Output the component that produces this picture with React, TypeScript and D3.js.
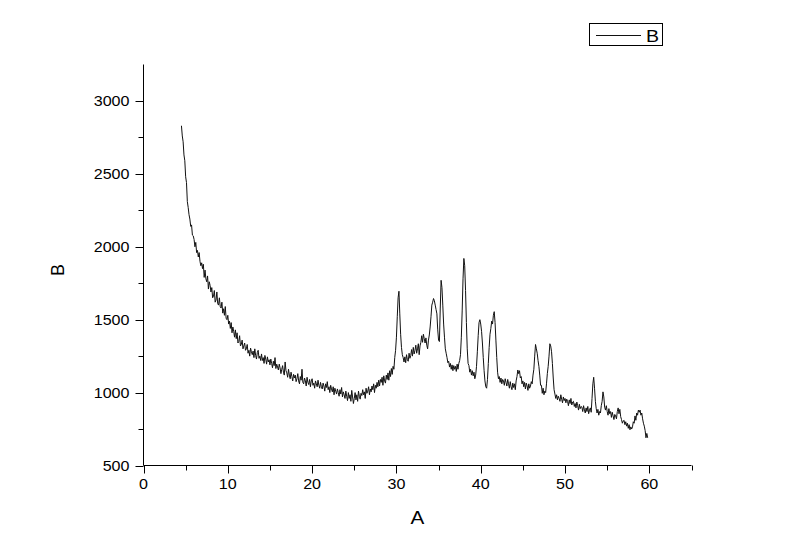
import React from "react";
import * as d3 from "d3";

// Sampling grid of the pattern (A values): starts at 4.5, step 0.1
const xStart = 4.5;
const xStep = 0.1;

// Intensity values (B), one row per unit of A
const values: number[] = [
  // 4.5 - 4.9
  2830, 2760, 2720, 2630, 2590,
  // 5
  2480, 2440, 2310, 2270, 2220, 2190, 2140, 2150, 2080, 2075,
  // 6
  2050, 2000, 2030, 1960, 1975, 1930, 1960, 1900, 1870, 1890,
  // 7
  1850, 1880, 1790, 1840, 1780, 1760, 1800, 1710, 1760, 1735,
  // 8
  1690, 1720, 1650, 1660, 1700, 1620, 1635, 1690, 1610, 1600,
  // 9
  1650, 1590, 1580, 1620, 1545, 1575, 1530, 1590, 1510, 1500,
  // 10
  1530, 1470, 1490, 1440, 1480, 1410, 1450, 1420, 1380, 1430,
  // 11
  1370, 1410, 1340, 1350, 1390, 1320, 1330, 1360, 1300, 1320,
  // 12
  1340, 1290, 1300, 1330, 1270, 1290, 1250, 1305, 1280, 1260,
  // 13
  1285, 1240, 1300, 1255, 1230, 1275, 1290, 1235, 1250, 1220,
  // 14
  1265, 1220, 1240, 1200, 1255, 1230, 1195, 1245, 1210, 1225,
  // 15
  1190, 1230, 1200, 1170, 1215, 1185, 1240, 1165, 1195, 1175,
  // 16
  1155, 1195, 1170, 1130, 1160, 1185, 1140, 1120, 1210, 1150,
  // 17
  1135, 1105, 1160, 1120, 1095, 1140, 1110, 1080, 1125, 1100,
  // 18
  1120, 1075, 1095, 1130, 1080, 1060, 1110, 1085, 1160, 1070,
  // 19
  1060, 1100, 1080, 1045, 1105, 1070, 1055, 1090, 1040, 1080,
  // 20
  1095, 1050, 1065, 1030, 1080, 1060, 1040, 1085, 1050, 1030,
  // 21
  1070, 1040, 1025, 1065, 1045, 1010, 1060, 1035, 1075, 1020,
  // 22
  1040, 1000, 1050, 1025, 1005, 1040, 985, 1030, 1010, 990,
  // 23
  1025, 1000, 975, 1020, 990, 1035, 970, 1005, 985, 960,
  // 24
  1010, 975, 945, 1000, 960, 985, 940, 1015, 970, 925,
  // 25
  960, 1000, 950, 985, 940, 1010, 975, 955, 995, 980,
  // 26
  1020, 985, 1005, 960, 1030, 995, 1010, 1040, 985, 1025,
  // 27
  1005, 1045, 1020, 1060, 1000, 1050, 1030, 1070, 1040, 1085,
  // 28
  1045, 1090, 1070, 1105, 1050, 1115, 1080, 1065, 1120, 1090,
  // 29
  1135, 1085, 1150, 1110, 1165, 1125, 1180, 1160, 1240, 1290,
  // 30
  1380, 1520, 1650, 1695, 1540, 1400, 1310, 1260, 1240, 1210,
  // 31
  1245, 1205, 1260, 1225, 1215, 1270, 1235, 1255, 1295, 1250,
  // 32
  1310, 1265, 1290, 1325, 1270, 1300, 1335, 1260, 1320, 1345,
  // 33
  1390, 1345, 1400, 1370, 1340, 1375, 1325, 1300, 1360, 1395,
  // 34
  1450, 1520, 1600, 1620, 1645, 1630, 1600, 1570, 1540, 1430,
  // 35
  1360, 1350, 1580, 1770, 1720, 1600, 1470, 1380, 1300, 1270,
  // 36
  1240, 1205, 1215, 1175, 1200, 1160, 1190, 1150, 1185, 1160,
  // 37
  1180, 1145, 1195, 1160, 1200, 1220, 1260, 1380, 1560, 1780,
  // 38
  1920, 1870, 1700, 1480, 1300, 1200, 1185, 1140, 1160, 1120,
  // 39
  1150, 1115, 1140, 1095, 1120, 1180, 1280, 1390, 1480, 1500,
  // 40
  1470, 1420, 1340, 1240, 1150, 1080, 1040, 1030, 1090, 1200,
  // 41
  1310, 1400, 1440, 1490, 1470, 1530, 1555, 1480, 1360, 1240,
  // 42
  1140, 1095, 1110, 1070, 1100, 1060, 1090, 1080, 1050, 1095,
  // 43
  1070, 1045, 1090, 1060, 1030, 1075, 1040, 1020, 1065, 1035,
  // 44
  1060, 1020, 1080, 1110, 1155, 1130, 1150, 1100, 1110, 1060,
  // 45
  1080, 1040, 1070, 1025, 1065, 1045, 1015, 1060, 1030, 1045,
  // 46
  1075, 1060, 1120, 1160, 1250, 1330, 1300, 1270, 1220, 1180,
  // 47
  1120, 1050, 1050, 995, 1030, 985, 1010, 1000, 1060, 1130,
  // 48
  1180, 1250, 1335, 1320, 1280, 1200, 1100, 1020, 990, 960,
  // 49
  985, 950, 975, 960, 940, 985, 955, 930, 970, 945,
  // 50
  960, 930, 955, 940, 910, 950, 925, 960, 915, 935,
  // 51
  940, 905, 925, 895, 935, 910, 880, 920, 890, 905,
  // 52
  900, 870, 910, 880, 860, 895, 870, 905, 855, 880,
  // 53
  895, 865, 960, 1060, 1105, 1030, 940, 890, 860, 885,
  // 54
  845, 870, 860, 910, 940, 1005, 970, 900, 880, 910,
  // 55
  870, 845, 890, 855, 870, 830, 865, 840, 815, 850,
  // 56
  840, 820, 870, 895, 855, 885, 835, 815, 790, 805,
  // 57
  810, 780, 800, 770, 790, 755, 780, 745, 765, 750,
  // 58
  765, 800, 790, 840, 810, 860, 845, 880, 865, 880,
  // 59 - 59.8
  845, 860, 820, 790, 770, 740, 690, 720, 690,
];

const xMajorTicks = [0, 10, 20, 30, 40, 50, 60];
const xMinorTicks = [5, 15, 25, 35, 45, 55, 65];
const yMajorTicks = [500, 1000, 1500, 2000, 2500, 3000];
const yMinorTicks = [750, 1250, 1750, 2250, 2750];
const xTitle = "A";
const yTitle = "B";
const seriesName = "B";

const FONT = "'Liberation Sans', Arial, Helvetica, sans-serif";
const SX = 1.15;

export default function App() {
  const x = d3.scaleLinear().domain([0, 65]).range([143.5, 691.5]);
  const y = d3.scaleLinear().domain([500, 3250]).range([465.5, 64.5]);

  const pts: [number, number][] = values.map((v, i) => [xStart + i * xStep, v]);
  const line = d3
    .line<[number, number]>()
    .x((d) => x(d[0]))
    .y((d) => y(d[1]));

  const x0 = x(0);
  const yBase = y(500);

  return (
    <svg
      width={800}
      height={558}
      style={{ position: "absolute", left: 0, top: 0, background: "#fff" }}
      fontFamily={FONT}
    >
      <rect x={0} y={0} width={800} height={558} fill="#fff" />
      {/* data */}
      <path d={line(pts) || ""} fill="none" stroke="#111" strokeWidth={1} strokeLinejoin="round" />

      {/* x axis */}
      <line x1={x0} x2={x(65)} y1={yBase} y2={yBase} stroke="#000" strokeWidth={1} />
      {xMajorTicks.map((t) => (
        <g key={"xm" + t}>
          <line x1={Math.round(x(t)) + 0.5} x2={Math.round(x(t)) + 0.5} y1={yBase} y2={yBase + 8} stroke="#000" />
          <text
            transform={`translate(${x(t)},${yBase + 23}) scale(${SX},1)`}
            textAnchor="middle"
            fontSize={14}
            fill="#000"
          >
            {t}
          </text>
        </g>
      ))}
      {xMinorTicks.map((t) => (
        <line key={"xn" + t} x1={Math.round(x(t)) + 0.5} x2={Math.round(x(t)) + 0.5} y1={yBase} y2={yBase + 5} stroke="#000" />
      ))}

      {/* y axis */}
      <line x1={x0} x2={x0} y1={y(3250)} y2={yBase} stroke="#000" strokeWidth={1} />
      {yMajorTicks.map((t) => (
        <g key={"ym" + t}>
          <line x1={x0 - 8} x2={x0} y1={Math.round(y(t)) + 0.5} y2={Math.round(y(t)) + 0.5} stroke="#000" />
          <text
            transform={`translate(${x0 - 14},${y(t) + 5}) scale(${SX},1)`}
            textAnchor="end"
            fontSize={14}
            fill="#000"
          >
            {t}
          </text>
        </g>
      ))}
      {yMinorTicks.map((t) => (
        <line key={"yn" + t} x1={x0 - 5} x2={x0} y1={Math.round(y(t)) + 0.5} y2={Math.round(y(t)) + 0.5} stroke="#000" />
      ))}

      {/* axis titles */}
      <text
        transform={`translate(${x(32.5)},${524}) scale(${SX},1)`}
        textAnchor="middle"
        fontSize={18}
        fill="#000"
      >
        {xTitle}
      </text>
      <text
        transform={`translate(${64},${(y(3250) + yBase) / 2 + 5}) rotate(-90)`}
        textAnchor="middle"
        fontSize={18}
        fill="#000"
      >
        {yTitle}
      </text>

      {/* legend */}
      <rect x={589.5} y={23.5} width={73} height={22} fill="#fff" stroke="#000" strokeWidth={1} />
      <line x1={596} x2={641} y1={35.5} y2={35.5} stroke="#111" strokeWidth={1} />
      <text transform={`translate(${646},${41.5}) scale(${SX},1)`} fontSize={17} fill="#000">
        {seriesName}
      </text>
    </svg>
  );
}
